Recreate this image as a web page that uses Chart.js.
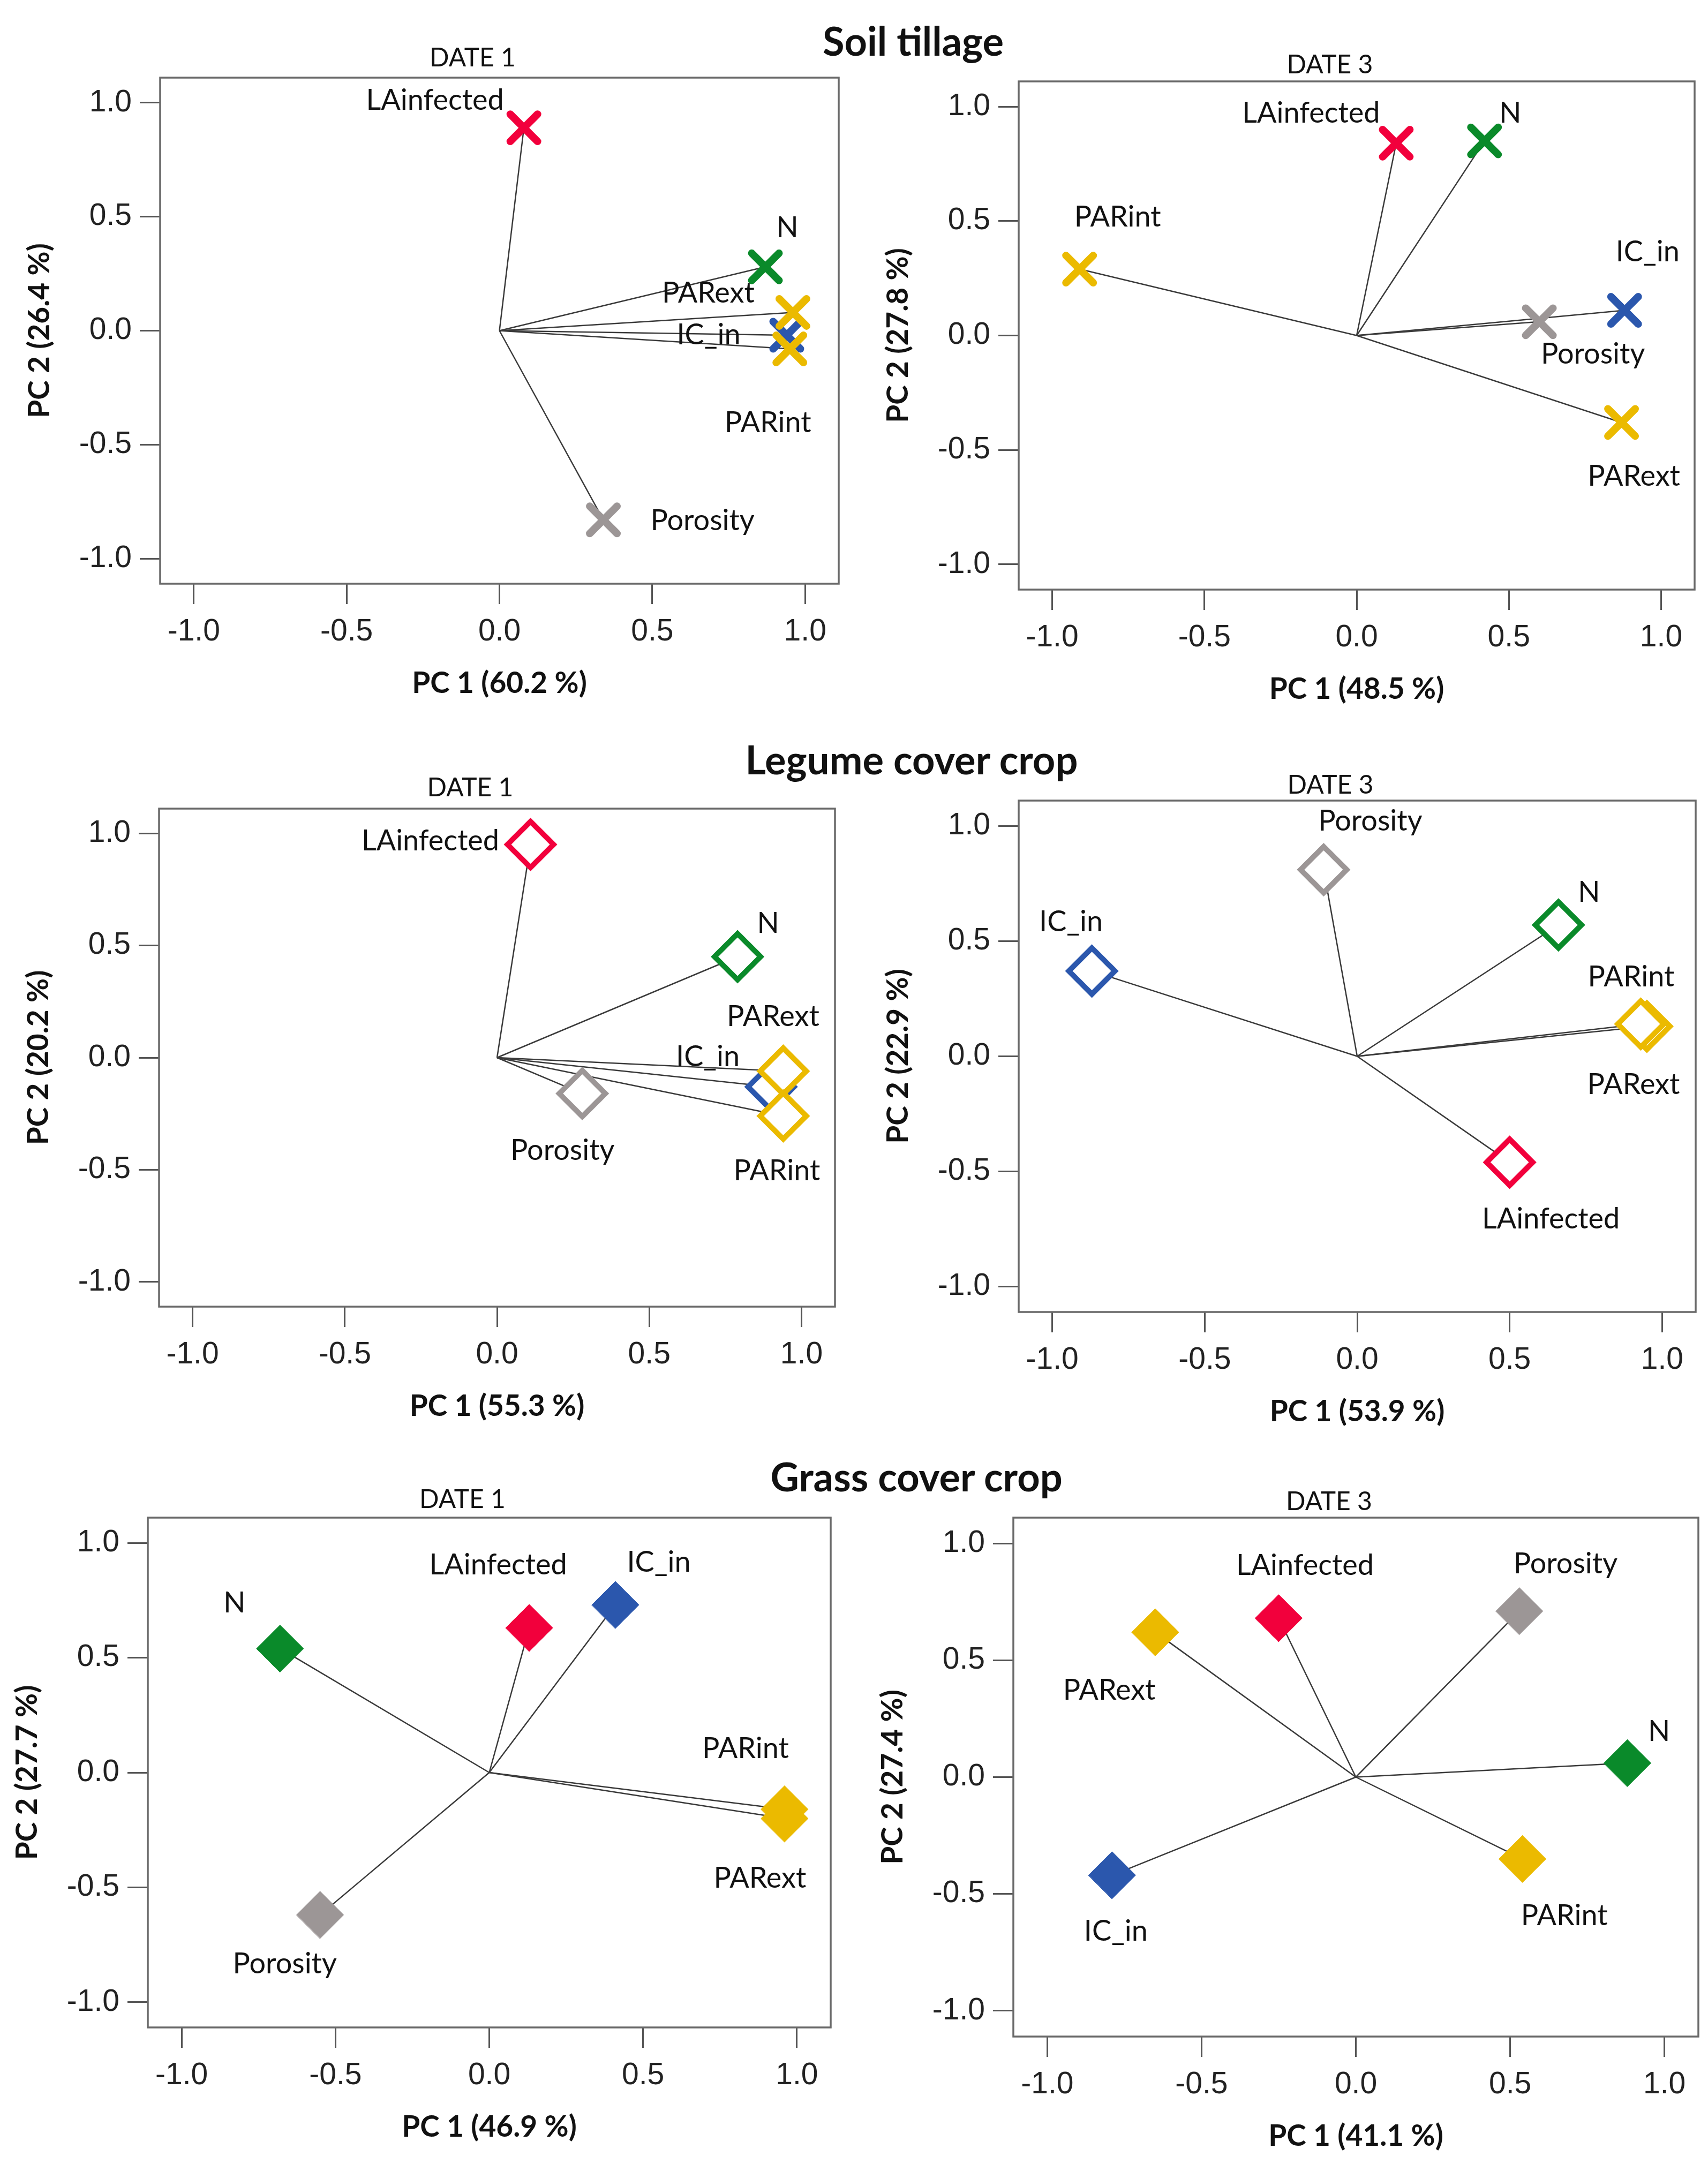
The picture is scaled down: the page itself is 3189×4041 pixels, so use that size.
<!DOCTYPE html>
<html><head><meta charset="utf-8">
<script src="https://cdn.jsdelivr.net/npm/chart.js@4.4.0/dist/chart.umd.min.js"></script>
<style>
html,body{margin:0;padding:0;background:#fff;}
body{width:3189px;height:4041px;position:relative;overflow:hidden;}
canvas{position:absolute;}
.sec{position:absolute;transform:translate(-50%,-50%);font-family:Lato,'Open Sans',sans-serif;font-weight:700;font-size:74px;color:#111;white-space:nowrap;line-height:1;}
</style></head><body>
<div class="sec" style="left:1705px;top:76px">Soil tillage</div>
<div class="sec" style="left:1702px;top:1418px">Legume cover crop</div>
<div class="sec" style="left:1711px;top:2757px">Grass cover crop</div>
<script>
// ---- data ----
const variables = ['LAinfected', 'N', 'Porosity', 'IC_in', 'PARext', 'PARint'];
const tickValues = [-1.0, -0.5, 0.0, 0.5, 1.0];

const tillageD1_pc1 = [0.08, 0.87, 0.34, 0.94, 0.96, 0.95];
const tillageD1_pc2 = [0.89, 0.28, -0.83, -0.02, 0.08, -0.08];
const tillageD3_pc1 = [0.13, 0.42, 0.60, 0.88, 0.87, -0.91];
const tillageD3_pc2 = [0.84, 0.85, 0.06, 0.11, -0.38, 0.29];
const legumeD1_pc1 = [0.11, 0.79, 0.28, 0.90, 0.94, 0.94];
const legumeD1_pc2 = [0.95, 0.45, -0.16, -0.13, -0.06, -0.26];
const legumeD3_pc1 = [0.50, 0.66, -0.11, -0.87, 0.95, 0.93];
const legumeD3_pc2 = [-0.46, 0.57, 0.81, 0.37, 0.13, 0.14];
const grassD1_pc1 = [0.13, -0.68, -0.55, 0.41, 0.96, 0.96];
const grassD1_pc2 = [0.63, 0.54, -0.62, 0.73, -0.20, -0.16];
const grassD3_pc1 = [-0.25, 0.88, 0.53, -0.79, -0.65, 0.54];
const grassD3_pc2 = [0.68, 0.06, 0.71, -0.42, 0.62, -0.35];

// ---- styles / layout ----
const varColors = ['#F2003C', '#0A8A2A', '#9C9696', '#2B57AD', '#EBBA00', '#EBBA00'];
const markerStyles = {
  cross:  {pointStyle: 'crossRot', radius: 36, borderWidth: 14, fill: false},
  open:   {pointStyle: 'rectRot', radius: 43, borderWidth: 10, fill: false},
  filled: {pointStyle: 'rectRot', radius: 44, borderWidth: 1, fill: true}
};
const panels = [
  {box: [299, 145, 1566, 1090], date: 'DATE 1', dateGap: 36, xTitle: 'PC 1 (60.2 %)', yTitle: 'PC 2 (26.4 %)',
   pc1: tillageD1_pc1, pc2: tillageD1_pc2, marker: 'cross',
   labelOffsets: [[-166, -51], [41, -73], [185, 2], [-146, 0], [-158, -36], [-41, 138]]},
  {box: [1902, 152, 3164, 1101], date: 'DATE 3', dateGap: 30, xTitle: 'PC 1 (48.5 %)', yTitle: 'PC 2 (27.8 %)',
   pc1: tillageD3_pc1, pc2: tillageD3_pc2, marker: 'cross',
   labelOffsets: [[-159, -56], [48, -52], [100, 61], [43, -109], [23, 101], [71, -97]]},
  {box: [297, 1510, 1559, 2440], date: 'DATE 1', dateGap: 38, xTitle: 'PC 1 (55.3 %)', yTitle: 'PC 2 (20.2 %)',
   pc1: legumeD1_pc1, pc2: legumeD1_pc2, marker: 'open',
   labelOffsets: [[-187, -6], [57, -62], [-37, 107], [-118, -56], [-19, -102], [-12, 103]]},
  {box: [1902, 1495, 3166, 2450], date: 'DATE 3', dateGap: 28, xTitle: 'PC 1 (53.9 %)', yTitle: 'PC 2 (22.9 %)',
   pc1: legumeD3_pc1, pc2: legumeD3_pc2, marker: 'open',
   labelOffsets: [[77, 106], [57, -61], [87, -90], [-39, -92], [-25, 109], [-18, -88]]},
  {box: [276, 2834, 1551, 3786], date: 'DATE 1', dateGap: 33, xTitle: 'PC 1 (46.9 %)', yTitle: 'PC 2 (27.7 %)',
   pc1: grassD1_pc1, pc2: grassD1_pc2, marker: 'filled',
   labelOffsets: [[-58, -117], [-85, -85], [-66, 92], [81, -79], [-46, 112], [-73, -113]]},
  {box: [1892, 2834, 3171, 3803], date: 'DATE 3', dateGap: 29, xTitle: 'PC 1 (41.1 %)', yTitle: 'PC 2 (27.4 %)',
   pc1: grassD3_pc1, pc2: grassD3_pc2, marker: 'filled',
   labelOffsets: [[49, -98], [59, -59], [86, -88], [7, 105], [-86, 109], [78, 106]]}
];

const LEFT_W = 270, TOP_P = 90, RIGHT_P = 16, BOTTOM_H = 230;

function build() {
  panels.forEach(p => {
    const [L, T, R, B] = p.box;
    const w = R - L + LEFT_W + RIGHT_P, h = B - T + TOP_P + BOTTOM_H;
    const cv = document.createElement('canvas');
    cv.width = w; cv.height = h;
    cv.style.left = (L - LEFT_W) + 'px'; cv.style.top = (T - TOP_P) + 'px';
    cv.style.width = w + 'px'; cv.style.height = h + 'px';
    document.body.appendChild(cv);

    const ms = markerStyles[p.marker];
    const lineSets = variables.map((v, i) => ({
      data: [{x: 0, y: 0}, {x: p.pc1[i], y: p.pc2[i]}],
      showLine: true, borderColor: '#3a3a3a', borderWidth: 2.5,
      pointRadius: 0, order: 1, clip: false
    }));
    const markerSet = {
      data: variables.map((v, i) => ({x: p.pc1[i], y: p.pc2[i]})),
      pointStyle: ms.pointStyle, pointRadius: ms.radius, pointBorderWidth: ms.borderWidth,
      pointBorderColor: varColors,
      pointBackgroundColor: ms.fill ? varColors : (ms.pointStyle === 'rectRot' ? '#ffffff' : varColors),
      showLine: false, order: 0, clip: false
    };

    const framePlugin = {
      id: 'frame',
      beforeDatasetsDraw(chart) {
        const {ctx, chartArea: a} = chart;
        ctx.save();
        ctx.strokeStyle = '#6a6a6a'; ctx.lineWidth = 3.5;
        ctx.strokeRect(a.left, a.top, a.right - a.left, a.bottom - a.top);
        ctx.font = '48px Lato';
        ctx.fillStyle = '#111'; ctx.textAlign = 'center'; ctx.textBaseline = 'middle';
        ctx.fillText(p.date, (a.left + a.right) / 2 - 50, a.top - p.dateGap);
        ctx.restore();
        // rounded ends for cross markers
        chart.ctx.lineCap = 'round';
      }
    };
    const labelPlugin = {
      id: 'varLabels',
      afterDatasetsDraw(chart) {
        const {ctx, scales: {x, y}} = chart;
        ctx.lineCap = 'butt';
        ctx.save();
        ctx.font = '54px Lato';
        ctx.fillStyle = '#111'; ctx.textAlign = 'center'; ctx.textBaseline = 'middle';
        variables.forEach((v, i) => {
          const [dx, dy] = p.labelOffsets[i];
          ctx.fillText(v, x.getPixelForValue(p.pc1[i]) + dx, y.getPixelForValue(p.pc2[i]) + dy);
        });
        ctx.restore();
      }
    };

    const tickFont = {family: "'Liberation Sans', Arial, sans-serif", size: 57};
    const titleFont = {family: "Lato, 'Open Sans', sans-serif", size: 55, weight: 'bold'};
    const gridOpts = {display: true, drawOnChartArea: false, drawTicks: true, tickLength: 38, tickColor: '#555', tickWidth: 3};

    new Chart(cv, {
      type: 'scatter',
      data: {datasets: [...lineSets, markerSet]},
      options: {
        responsive: false, animation: false, devicePixelRatio: 1, events: [],
        layout: {autoPadding: false, padding: {left: 0, top: TOP_P, right: RIGHT_P, bottom: 0}},
        plugins: {legend: {display: false}, tooltip: {enabled: false}, title: {display: false}},
        scales: {
          x: {
            type: 'linear', min: -1.11, max: 1.11,
            afterBuildTicks: s => { s.ticks = tickValues.map(v => ({value: v})); },
            afterFit: s => { s.height = BOTTOM_H; s.paddingLeft = 0; s.paddingRight = 0; },
            ticks: {callback: v => Number(v).toFixed(1), font: tickFont, color: '#222', padding: 18, maxRotation: 0, autoSkip: false},
            grid: gridOpts, border: {display: false},
            title: {display: true, text: p.xTitle, font: titleFont, color: '#111', padding: {top: 0, bottom: 11}}
          },
          y: {
            type: 'linear', min: -1.11, max: 1.11,
            afterBuildTicks: s => { s.ticks = tickValues.map(v => ({value: v})); },
            afterFit: s => { s.width = LEFT_W; s.paddingTop = 0; s.paddingBottom = 0; },
            ticks: {callback: v => Number(v).toFixed(1), font: tickFont, color: '#222', padding: 15, autoSkip: false},
            grid: gridOpts, border: {display: false},
            title: {display: true, text: p.yTitle, font: titleFont, color: '#111', padding: {top: 12, bottom: 0}}
          }
        }
      },
      plugins: [framePlugin, labelPlugin]
    });
  });
}

const fontLoads = ['48px Lato', 'bold 55px Lato', '54px Lato', '57px "Liberation Sans"', 'bold 74px Lato']
  .map(f => document.fonts.load(f).catch(() => null));
Promise.all(fontLoads).then(build, build);
</script>
</body></html>
